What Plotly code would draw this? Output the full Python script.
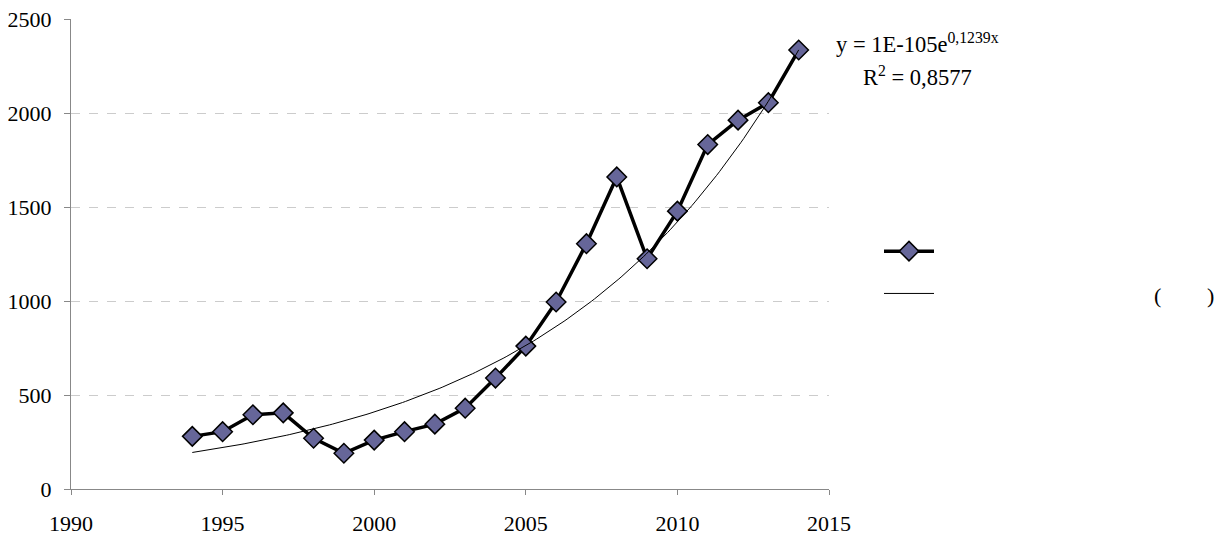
import numpy as np
import plotly.graph_objects as go

years = [1994, 1995, 1996, 1997, 1998, 1999, 2000, 2001, 2002, 2003, 2004,
         2005, 2006, 2007, 2008, 2009, 2010, 2011, 2012, 2013, 2014]
values = [280, 305, 395, 405, 270, 190, 260, 305, 345, 430, 590,
          760, 995, 1305, 1660, 1225, 1478, 1832, 1962, 2055, 2335]

# Exponential trend (least squares on ln y, as a spreadsheet trendline does)
b, a = np.polyfit(np.array(years, float), np.log(values), 1)
trend_x = np.linspace(years[0], years[-1], 200)
trend_y = np.exp(a + b * trend_x)

FONT = "Liberation Serif, Times New Roman, serif"
FS = 22

# page body has an 8px margin -> target pixel coordinates are offset by 8
OFF = 8
W, H = 1228 - 2 * OFF, 538 - OFF
PL, PT, PW, PH = 71 - OFF, 19 - OFF, 758, 470


def px(x):
    return (x - 71) / PW


def py(y):
    return (489 - y) / PH


fig = go.Figure()
fig.add_trace(go.Scatter(
    x=years, y=values, mode="lines+markers", name=" ",
    line=dict(color="black", width=3.5),
    marker=dict(symbol="diamond", size=15, color="#666699",
                line=dict(color="black", width=1.5)),
    legendgroup="a",
))
fig.add_trace(go.Scatter(
    x=trend_x, y=trend_y, mode="lines", name=" ",
    line=dict(color="black", width=1),
    legendgroup="b",
))

fig.update_layout(
    template="none",
    width=W, height=H,
    margin=dict(l=PL, r=W - PL - PW, t=PT, b=H - PT - PH, autoexpand=False),
    paper_bgcolor="white", plot_bgcolor="white",
    font=dict(family=FONT, size=FS, color="black"),
    showlegend=True,
    legend=dict(x=px(879), y=py(231), xanchor="left", yanchor="top",
                tracegroupgap=12, font=dict(size=21),
                itemwidth=50, bgcolor="rgba(0,0,0,0)"),
    xaxis=dict(range=[1990, 2015], tickmode="linear", tick0=1990, dtick=5,
               automargin=False,
               showgrid=False, zeroline=False, showline=True,
               linecolor="#888888", linewidth=1, ticks="outside",
               ticklen=5, tickcolor="#888888", ticklabelstandoff=10,
               ticklabeloverflow="allow",
               tickfont=dict(family=FONT, size=FS)),
    yaxis=dict(range=[0, 2500], tickmode="linear", tick0=0, dtick=500,
               automargin=False,
               showgrid=True, gridcolor="#cccccc", griddash="dash",
               gridwidth=1, zeroline=False, showline=True,
               linecolor="#888888", linewidth=1, ticks="outside",
               ticklen=6, tickcolor="#888888", ticklabelstandoff=8,
               ticklabeloverflow="allow",
               tickfont=dict(family=FONT, size=FS)),
)

fig.add_annotation(
    xref="paper", yref="paper", x=px(917), y=py(43),
    xanchor="center", yanchor="middle", showarrow=False,
    text="y = 1E-105e<sup>0,1239x</sup>",
    font=dict(family=FONT, size=22.5, color="black"),
)
fig.add_annotation(
    xref="paper", yref="paper", x=px(917), y=py(76),
    xanchor="center", yanchor="middle", showarrow=False,
    text="R<sup>2</sup> = 0,8577",
    font=dict(family=FONT, size=22.5, color="black"),
)
fig.add_annotation(
    xref="paper", yref="paper", x=px(1157), y=py(295),
    xanchor="center", yanchor="middle", showarrow=False,
    text="(", font=dict(family=FONT, size=FS, color="black"),
)
fig.add_annotation(
    xref="paper", yref="paper", x=px(1210), y=py(295),
    xanchor="center", yanchor="middle", showarrow=False,
    text=")", font=dict(family=FONT, size=FS, color="black"),
)

fig.write_html("out.html")
